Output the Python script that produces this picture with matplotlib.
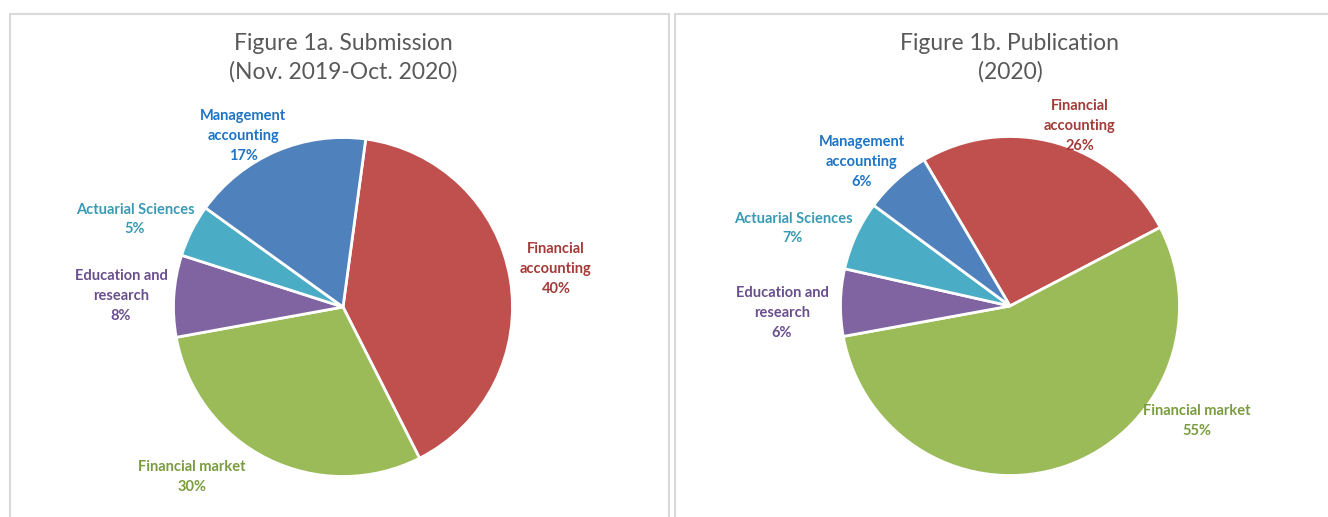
import matplotlib.pyplot as plt
from matplotlib.patches import Rectangle

plt.rcParams["font.family"] = ["Lato", "DejaVu Sans"]

W, H = 1328, 517

categories = ["Financial accounting", "Financial market", "Education and research",
              "Actuarial Sciences", "Management accounting"]
label_text = ["Financial\naccounting", "Financial market", "Education and\nresearch",
              "Actuarial Sciences", "Management\naccounting"]
submission = [40.4, 29.6, 7.8, 5.0, 17.2]
publication = [25.8, 54.8, 6.4, 6.6, 6.4]
titles = ["Figure 1a. Submission\n(Nov. 2019-Oct. 2020)", "Figure 1b. Publication\n(2020)"]

wedge_colors = ["#C0504D", "#9BBB59", "#8064A2", "#4BACC6", "#4F81BD"]
text_colors = ["#A33B38", "#7A9C3E", "#6A4F8E", "#3A9AB3", "#1F74C4"]

# layout in pixels: axes span, pie centre, radius, start angle, label centres
panels = [
    dict(x0=0, x1=672, cx=343, cy=307, r=169.5, start=82.3,
         labels=[(556, 269), (192, 477), (121, 296), (135, 219.5), (243, 136)]),
    dict(x0=672, x1=W, cx=1010, cy=306, r=169.5, start=120.5,
         labels=[(1080, 126), (1197, 421), (782, 313), (793, 228.5), (862, 162)]),
]

fig = plt.figure(figsize=(W / 100, H / 100), dpi=100)

for vals, p, title in zip([submission, publication], panels, titles):
    ax = fig.add_axes([p["x0"] / W, 0, (p["x1"] - p["x0"]) / W, 1])
    ax.pie(vals, colors=wedge_colors, startangle=p["start"], counterclock=False,
           wedgeprops=dict(edgecolor="white", linewidth=2))
    r, cx, cy = p["r"], p["cx"], p["cy"]
    ax.set_aspect("auto")
    ax.set_xlim((p["x0"] - cx) / r, (p["x1"] - cx) / r)
    ax.set_ylim((cy - H) / r, cy / r)
    ax.axis("off")
    for name, v, col, (lx, ly) in zip(label_text, vals, text_colors, p["labels"]):
        ax.text((lx - cx) / r, (cy - ly) / r, f"{name}\n{round(v)}%", color=col,
                fontsize=10.5, fontweight="bold", ha="center", va="center",
                linespacing=1.52)
    fig.text(cx / W, 1 - 58 / H, title, ha="center", va="center", fontsize=16.5,
             color="#595959", linespacing=1.4)

fig.add_artist(Rectangle((10 / W, -0.01), 659 / W, (H - 14) / H + 0.01,
                         transform=fig.transFigure, fill=False,
                         edgecolor="#D9D9D9", linewidth=1.5))
fig.add_artist(Rectangle((675 / W, -0.01), 700 / W, (H - 14) / H + 0.01,
                         transform=fig.transFigure, fill=False,
                         edgecolor="#D9D9D9", linewidth=1.5))

fig.savefig("out.png", dpi=100)
